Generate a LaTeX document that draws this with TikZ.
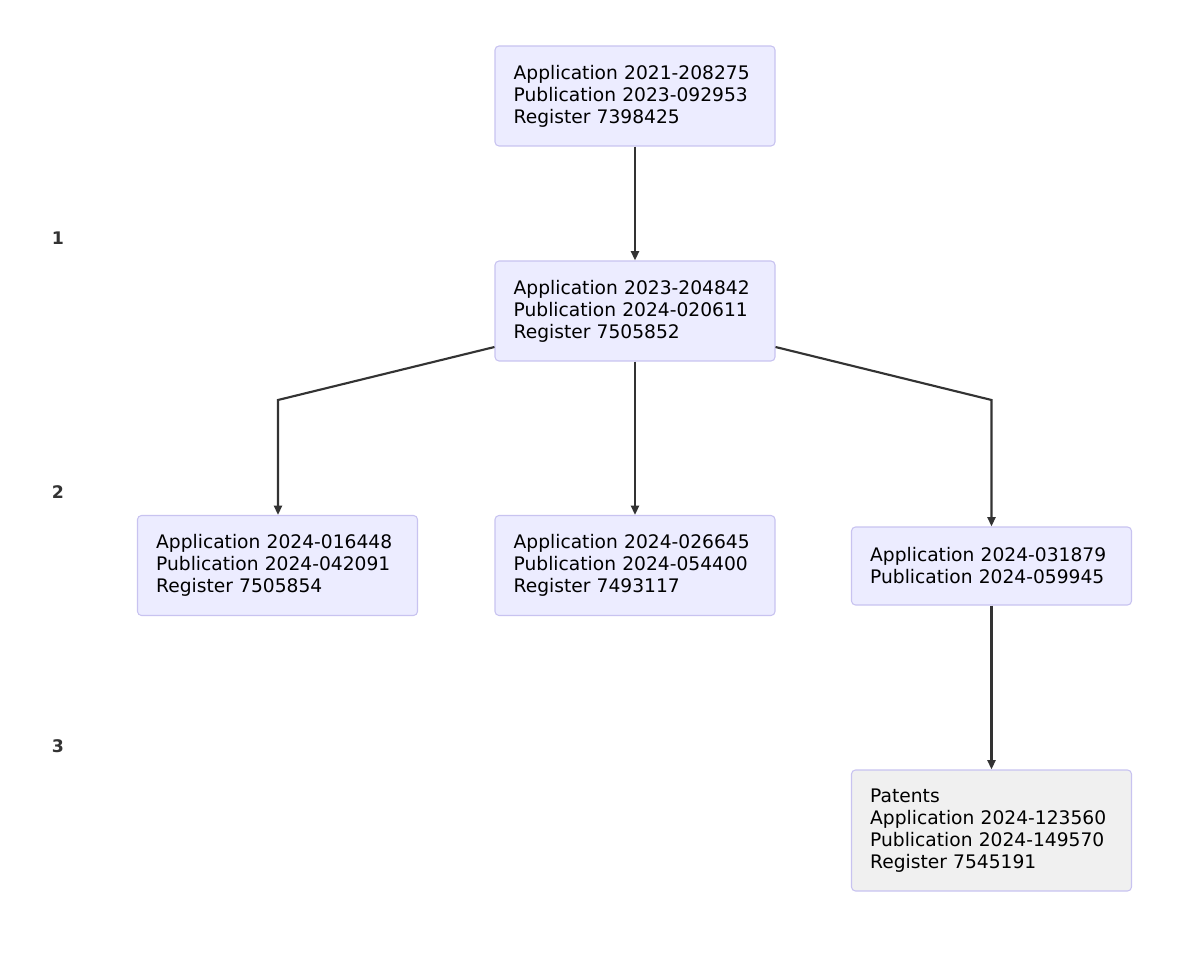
\documentclass[tikz,border=0pt]{standalone}
\usepackage{fontspec}
\setmainfont{DejaVu Sans}
\usetikzlibrary{arrows.meta, positioning}
\definecolor{boxfill}{HTML}{ECECFF}
\definecolor{boxline}{HTML}{C8C3F0}
\definecolor{patfill}{HTML}{F0F0F0}
\definecolor{edgecol}{HTML}{333333}
\tikzset{
>={Triangle[length=7pt,width=6pt]}, % filled arrow heads
appbox/.style={draw=boxline, fill=boxfill, rounded corners=3pt, line width=0.8pt,
  minimum width=210pt, minimum height=75pt, align=left, text width=182pt,
  font=\fontsize{14}{16.5}\selectfont},
patbox/.style={appbox, fill=patfill},
level/.style={font=\bfseries\fontsize{13}{15}\selectfont, text=edgecol},
link/.style={->, draw=edgecol, line width=1.6pt},
}
\begin{document}
\begin{tikzpicture}[x=0.75pt,y=-0.75pt]
  \useasboundingbox (0,0) rectangle (1200,955);
  % level labels
  \node[level] (lv1) at (58,238) {1};
  \node[level] (lv2) at (58,492) {2};
  \node[level] (lv3) at (58,746) {3};

  % application boxes
  \node[appbox] (app21) at (635,96) {Application 2021-208275\\Publication 2023-092953\\Register 7398425};
  \node[appbox] (app23) at (635,311) {Application 2023-204842\\Publication 2024-020611\\Register 7505852};
  \node[appbox] (app16) at (277.5,565.5) {Application 2024-016448\\Publication 2024-042091\\Register 7505854};
  \node[appbox] (app26) at (635,565.5) {Application 2024-026645\\Publication 2024-054400\\Register 7493117};
  \node[appbox, minimum height=58.5pt] (app31) at (991.5,566) {Application 2024-031879\\Publication 2024-059945};
  \node[patbox, minimum height=90.75pt] (pat) at (991.5,830.5) {Patents\\Application 2024-123560\\Publication 2024-149570\\Register 7545191};

  % bends
  \coordinate (bl) at (278,400);
  \coordinate (br) at (991.5,400);

  \draw[link] (app21) -- (app23);
  \draw[link] (app23) -- (app26);
  \draw[link] ([yshift=-27pt]app23.west) -- (bl) -- (app16.north -| bl);
  \draw[link] ([yshift=-27pt]app23.east) -- (br) -- (app31.north);
  \draw[link] (app31) -- (pat);
\end{tikzpicture}
\end{document}
